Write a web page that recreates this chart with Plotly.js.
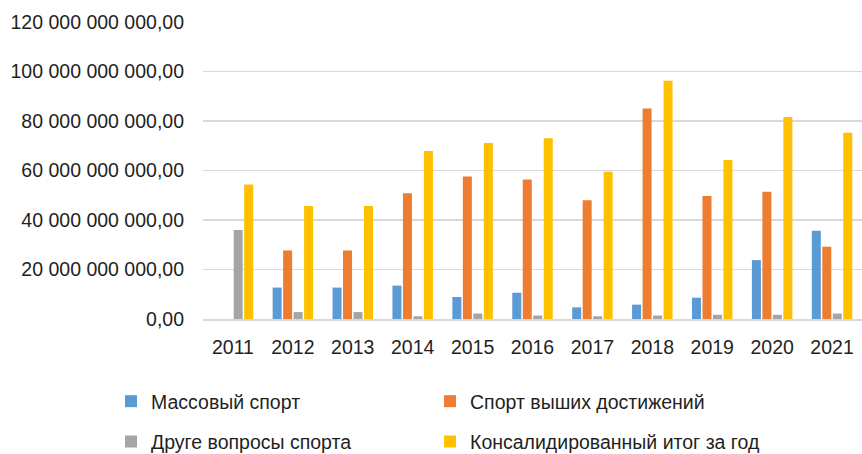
<!DOCTYPE html>
<html>
<head>
<meta charset="utf-8">
<script src="https://cdn.plot.ly/plotly-3.0.1.min.js"></script>
<style>html,body{margin:0;padding:0;background:#fff;}#chart{width:862px;height:454px;}</style>
</head>
<body>
<div id="chart"></div>
<script>
var years = ["2011","2012","2013","2014","2015","2016","2017","2018","2019","2020","2021"];
var seriesNames = ["Массовый спорт","Спорт выших достижений","Друге вопросы спорта","Консалидированный итог за год"];
var massSport = [0, 12.7e9, 12.7e9, 13.5e9, 8.9e9, 10.6e9, 4.7e9, 5.8e9, 8.6e9, 23.8e9, 35.7e9];
var eliteSport = [0, 27.7e9, 27.7e9, 50.8e9, 57.6e9, 56.4e9, 48.0e9, 85.1e9, 49.7e9, 51.4e9, 29.2e9];
var otherSport = [36.0e9, 2.8e9, 2.8e9, 1.1e9, 2.2e9, 1.4e9, 1.1e9, 1.4e9, 1.7e9, 1.7e9, 2.2e9];
var totalYear = [54.3e9, 45.7e9, 45.7e9, 67.9e9, 71.1e9, 73.0e9, 59.5e9, 96.3e9, 64.2e9, 81.6e9, 75.3e9];
var yTicks = [0, 20e9, 40e9, 60e9, 80e9, 100e9, 120e9];

var FONT = '"Liberation Sans", Arial, sans-serif';
var FS = 19.5;
var colors = ["#5B9BD5","#ED7D31","#A5A5A5","#FFC000"];
var data = [massSport, eliteSport, otherSport, totalYear];
var legends = ["legend","legend2","legend","legend2"];
var traces = data.map(function(vals, i){
  return {
    type: 'bar', x: years, y: vals, name: seriesNames[i],
    marker: {color: colors[i], line: {width: 0}},
    legend: legends[i], legendgroup: 'g'+i,
    hoverinfo: 'skip'
  };
});

var legendCommon = {
  orientation: 'v', traceorder: 'grouped', tracegroupgap: 12,
  font: {family: FONT, size: FS, color: '#1f1f1f'},
  bgcolor: 'rgba(0,0,0,0)', xanchor: 'left', yanchor: 'top',
  yref: 'container', itemwidth: 30
};
var layout = {
  width: 862, height: 454,
  margin: {l: 203, r: 0, t: 22, b: 135},
  paper_bgcolor: '#fff', plot_bgcolor: '#fff',
  font: {family: FONT, size: FS, color: '#1f1f1f'},
  separators: ', ',
  barmode: 'group', bargap: 0.3, bargroupgap: 0.14,
  xaxis: {
    type: 'category', showgrid: false, ticks: '', showline: true,
    linecolor: '#d9d9d9', linewidth: 1.5, ticklabelstandoff: 10,
    tickfont: {family: FONT, size: FS, color: '#1f1f1f'}
  },
  yaxis: {
    range: [0, 120e9], tickvals: yTicks, tickformat: ',.2f',
    showgrid: true, gridcolor: '#d9d9d9', gridwidth: 1.5,
    zeroline: false, showline: false, ticks: '', ticklabelstandoff: 18,
    tickfont: {family: FONT, size: FS, color: '#1f1f1f'}
  },
  showlegend: true,
  legend: Object.assign({}, legendCommon, {x: -0.1396, y: 0.1586}),
  legend2: Object.assign({}, legendCommon, {x: 0.3445, y: 0.1586})
};
Plotly.newPlot('chart', traces, layout, {displayModeBar: false, staticPlot: true});
</script>
</body>
</html>
